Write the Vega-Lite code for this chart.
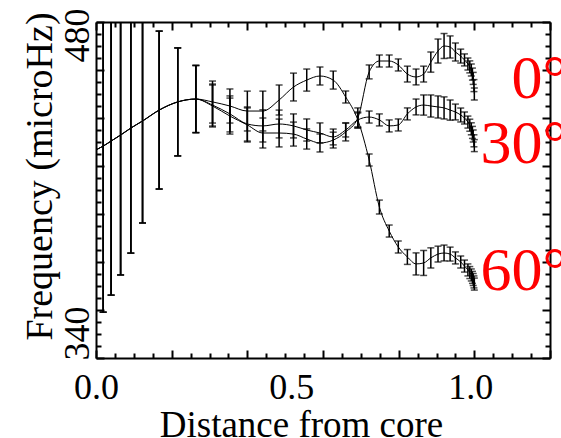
{
"$schema":"https://vega.github.io/schema/vega-lite/v6.json",
"width":454,"height":336,"autosize":"none",
"padding":{"left":96,"top":22,"right":11,"bottom":80},
"background":"white",
"config":{"view":{"stroke":null},"font":"Liberation Serif",
 "axis":{"grid":false,"domainColor":"black","domainWidth":2,"tickColor":"black","tickWidth":2,"labelColor":"black","titleColor":"black","labelFont":"Liberation Serif","titleFont":"Liberation Serif","labelFontWeight":"normal","titleFontWeight":"normal","labelOverlap":false,"labelFlush":false,"labelBound":false}},
"datasets":{
"d":[
{"s":"0","r":0,"f":426.7},{"s":"30","r":0,"f":426.7},{"s":"60","r":0,"f":426.7},
{"s":"0","r":0.019,"f":428.3,"lo":359.1,"hi":497.5},{"s":"30","r":0.019,"f":428.3,"lo":359.1,"hi":497.5},{"s":"60","r":0.019,"f":428.3,"lo":359.1,"hi":497.5},
{"s":"0","r":0.040,"f":430.4,"lo":366.2,"hi":494.6},{"s":"30","r":0.040,"f":430.4,"lo":366.2,"hi":494.6},{"s":"60","r":0.040,"f":430.4,"lo":366.2,"hi":494.6},
{"s":"0","r":0.065,"f":432.9,"lo":374.6,"hi":491.2},{"s":"30","r":0.065,"f":432.9,"lo":374.6,"hi":491.2},{"s":"60","r":0.065,"f":432.9,"lo":374.6,"hi":491.2},
{"s":"0","r":0.092,"f":435.8,"lo":383.7,"hi":487.9},{"s":"30","r":0.092,"f":435.8,"lo":383.7,"hi":487.9},{"s":"60","r":0.092,"f":435.8,"lo":383.7,"hi":487.9},
{"s":"0","r":0.123,"f":438.75,"lo":396.25,"hi":481.25},{"s":"30","r":0.123,"f":438.75,"lo":396.25,"hi":481.25},{"s":"60","r":0.123,"f":438.75,"lo":396.25,"hi":481.25},
{"s":"0","r":0.167,"f":443.3,"lo":410.4,"hi":476.2},{"s":"30","r":0.167,"f":443.3,"lo":410.4,"hi":476.2},{"s":"60","r":0.167,"f":443.3,"lo":410.4,"hi":476.2},
{"s":"0","r":0.216,"f":446.7,"lo":424.2,"hi":469.2},{"s":"30","r":0.216,"f":446.7,"lo":424.2,"hi":469.2},{"s":"60","r":0.216,"f":446.7,"lo":424.2,"hi":469.2},
{"s":"0","r":0.264,"f":447.9,"lo":433.9,"hi":461.9},{"s":"30","r":0.264,"f":447.9,"lo":433.9,"hi":461.9},{"s":"60","r":0.264,"f":447.9,"lo":433.9,"hi":461.9},
{"s":"60","r":0.308,"f":446.7,"lo":437.9,"hi":455.4},
{"s":"60","r":0.354,"f":445.0,"lo":437.9,"hi":452.1},
{"s":"60","r":0.400,"f":442.9,"lo":434.6,"hi":451.2},
{"s":"60","r":0.441,"f":442.9,"lo":434.6,"hi":451.2},
{"s":"60","r":0.484,"f":447.5,"lo":441.25,"hi":453.75},
{"s":"60","r":0.522,"f":452.9,"lo":447.1,"hi":458.7},
{"s":"60","r":0.557,"f":455.8,"lo":451.2,"hi":460.4},
{"s":"60","r":0.592,"f":457.5,"lo":453.75,"hi":461.25},
{"s":"60","r":0.627,"f":455.8,"lo":452.05,"hi":459.55},
{"s":"60","r":0.660,"f":448.75,"lo":446.25,"hi":451.25},
{"s":"60","r":0.692,"f":439.2,"lo":435.9,"hi":442.5},
{"s":"60","r":0.722,"f":422.5,"lo":420.0,"hi":425.0},
{"s":"60","r":0.749,"f":402.9,"lo":400.0,"hi":405.8},
{"s":"60","r":0.775,"f":392.9,"lo":390.4,"hi":395.4},
{"s":"60","r":0.799,"f":386.25,"lo":383.75,"hi":388.75},
{"s":"60","r":0.823,"f":382.1,"lo":379.0,"hi":385.2},
{"s":"60","r":0.846,"f":379.2,"lo":374.6,"hi":383.8},
{"s":"60","r":0.866,"f":379.6,"lo":374.4,"hi":384.8},
{"s":"60","r":0.885,"f":381.7,"lo":377.5,"hi":385.9},
{"s":"60","r":0.904,"f":383.3,"lo":380.0,"hi":386.6},
{"s":"60","r":0.920,"f":383.75,"lo":380.45,"hi":387.05},
{"s":"60","r":0.936,"f":383.3,"lo":380.4,"hi":386.2},
{"s":"60","r":0.950,"f":381.7,"lo":379.2,"hi":384.2},
{"s":"60","r":0.964,"f":380.0,"lo":377.5,"hi":382.5},
{"s":"60","r":0.974,"f":378.3,"lo":375.8,"hi":380.8},
{"s":"60","r":0.983,"f":376.7,"lo":374.2,"hi":379.2},
{"s":"60","r":0.988,"f":375.6,"lo":373.1,"hi":378.1},
{"s":"60","r":0.992,"f":374.6,"lo":372.1,"hi":377.1},
{"s":"60","r":0.995,"f":373.6,"lo":371.1,"hi":376.1},
{"s":"60","r":0.997,"f":372.7,"lo":370.2,"hi":375.2},
{"s":"60","r":0.999,"f":371.7,"lo":369.2,"hi":374.2},
{"s":"60","r":1.000,"f":370.8,"lo":368.3,"hi":373.3},
{"s":"0","r":0.308,"f":445.0,"lo":436.25,"hi":453.75},
{"s":"0","r":0.354,"f":440.8,"lo":433.3,"hi":448.3},
{"s":"0","r":0.400,"f":437.1,"lo":430.0,"hi":444.2},
{"s":"0","r":0.441,"f":433.75,"lo":427.5,"hi":440.0},
{"s":"0","r":0.484,"f":433.75,"lo":427.95,"hi":439.55},
{"s":"0","r":0.522,"f":433.3,"lo":428.3,"hi":438.3},
{"s":"0","r":0.557,"f":431.25,"lo":427.05,"hi":435.45},
{"s":"0","r":0.592,"f":429.6,"lo":425.85,"hi":433.35},
{"s":"0","r":0.627,"f":430.8,"lo":427.5,"hi":434.1},
{"s":"0","r":0.660,"f":434.2,"lo":430.45,"hi":437.95},
{"s":"0","r":0.692,"f":440.0,"lo":435.8,"hi":444.2},
{"s":"0","r":0.722,"f":459.2,"lo":456.3,"hi":462.1},
{"s":"0","r":0.749,"f":463.75,"lo":461.25,"hi":466.25},
{"s":"0","r":0.775,"f":463.75,"lo":461.25,"hi":466.25},
{"s":"0","r":0.799,"f":462.1,"lo":459.6,"hi":464.6},
{"s":"0","r":0.823,"f":458.3,"lo":455.0,"hi":461.6},
{"s":"0","r":0.846,"f":457.1,"lo":453.8,"hi":460.4},
{"s":"0","r":0.866,"f":458.3,"lo":455.0,"hi":461.6},
{"s":"0","r":0.885,"f":463.3,"lo":459.1,"hi":467.5},
{"s":"0","r":0.904,"f":467.9,"lo":462.9,"hi":472.9},
{"s":"0","r":0.920,"f":470.0,"lo":464.8,"hi":475.2},
{"s":"0","r":0.936,"f":469.6,"lo":465.0,"hi":474.2},
{"s":"0","r":0.950,"f":467.5,"lo":463.75,"hi":471.25},
{"s":"0","r":0.964,"f":465.8,"lo":462.9,"hi":468.7},
{"s":"0","r":0.974,"f":464.2,"lo":461.7,"hi":466.7},
{"s":"0","r":0.983,"f":462.5,"lo":460.0,"hi":465.0},
{"s":"0","r":0.988,"f":461.3,"lo":458.8,"hi":463.8},
{"s":"0","r":0.992,"f":460.0,"lo":457.5,"hi":462.5},
{"s":"0","r":0.995,"f":458.3,"lo":455.8,"hi":460.8},
{"s":"0","r":0.997,"f":456.5,"lo":454.0,"hi":459.0},
{"s":"0","r":0.999,"f":453.5,"lo":451.0,"hi":456.0},
{"s":"0","r":1.000,"f":450.0,"lo":447.5,"hi":452.5},
{"s":"30","r":0.308,"f":445.4,"lo":436.65,"hi":454.15},
{"s":"30","r":0.354,"f":441.7,"lo":434.2,"hi":449.2},
{"s":"30","r":0.400,"f":437.5,"lo":430.4,"hi":444.6},
{"s":"30","r":0.441,"f":436.7,"lo":430.0,"hi":443.4},
{"s":"30","r":0.484,"f":437.5,"lo":431.7,"hi":443.3},
{"s":"30","r":0.522,"f":436.7,"lo":431.7,"hi":441.7},
{"s":"30","r":0.557,"f":435.0,"lo":430.4,"hi":439.6},
{"s":"30","r":0.592,"f":433.75,"lo":429.55,"hi":437.95},
{"s":"30","r":0.627,"f":432.1,"lo":428.8,"hi":435.4},
{"s":"30","r":0.660,"f":435.0,"lo":432.1,"hi":437.9},
{"s":"30","r":0.692,"f":439.2,"lo":436.3,"hi":442.1},
{"s":"30","r":0.722,"f":440.4,"lo":437.9,"hi":442.9},
{"s":"30","r":0.749,"f":439.2,"lo":436.7,"hi":441.7},
{"s":"30","r":0.775,"f":436.7,"lo":434.2,"hi":439.2},
{"s":"30","r":0.799,"f":437.1,"lo":434.6,"hi":439.6},
{"s":"30","r":0.823,"f":441.7,"lo":439.2,"hi":444.2},
{"s":"30","r":0.846,"f":444.6,"lo":441.3,"hi":447.9},
{"s":"30","r":0.866,"f":445.4,"lo":441.2,"hi":449.6},
{"s":"30","r":0.885,"f":445.0,"lo":440.4,"hi":449.6},
{"s":"30","r":0.904,"f":444.6,"lo":440.0,"hi":449.2},
{"s":"30","r":0.920,"f":444.2,"lo":439.6,"hi":448.8},
{"s":"30","r":0.936,"f":443.3,"lo":439.1,"hi":447.5},
{"s":"30","r":0.950,"f":442.5,"lo":439.2,"hi":445.8},
{"s":"30","r":0.964,"f":441.25,"lo":438.35,"hi":444.15},
{"s":"30","r":0.974,"f":440.0,"lo":437.5,"hi":442.5},
{"s":"30","r":0.983,"f":438.3,"lo":435.8,"hi":440.8},
{"s":"30","r":0.988,"f":437.0,"lo":434.5,"hi":439.5},
{"s":"30","r":0.992,"f":435.5,"lo":433.0,"hi":438.0},
{"s":"30","r":0.995,"f":434.0,"lo":431.5,"hi":436.5},
{"s":"30","r":0.997,"f":432.5,"lo":430.0,"hi":435.0},
{"s":"30","r":0.999,"f":430.5,"lo":428.0,"hi":433.0},
{"s":"30","r":1.000,"f":428.5,"lo":426.0,"hi":431.0}
],
"lab":[{"t":"0°","r":1.246,"f":448.2},{"t":"30°","r":1.246,"f":421.1},{"t":"60°","r":1.246,"f":368.3}]
},
"layer":[
{"data":{"name":"d"},"transform":[{"filter":"isValid(datum.lo)"}],
 "mark":{"type":"errorbar","clip":true,"color":"black","thickness":1.5,"size":7,"ticks":true},
 "encoding":{
  "x":{"field":"r","type":"quantitative","scale":{"domain":[0,1.2],"nice":false,"zero":false},
   "axis":{"orient":"bottom","values":[0,0.05,0.1,0.15,0.2,0.25,0.3,0.35,0.4,0.45,0.5,0.55,0.6,0.65,0.7,0.75,0.8,0.85,0.9,0.95,1,1.05,1.1,1.15,1.2],
    "format":".1f","labelExpr":"abs(datum.value) < 0.001 || abs(datum.value - 0.5) < 0.001 || abs(datum.value - 1) < 0.001 ? datum.label : ''",
    "tickSize":{"condition":{"test":"abs(datum.value*5 - round(datum.value*5)) < 0.001","value":-8},"value":-5},
    "labelFontSize":36,"labelBaseline":"alphabetic","labelAlign":"center",
    "labelPadding":{"condition":{"test":"abs(datum.value*5 - round(datum.value*5)) < 0.001","value":48},"value":45},
    "labelOffset":{"condition":[{"test":"abs(datum.value - 0.5) < 0.001","value":6},{"test":"abs(datum.value - 1) < 0.001","value":-4}],"value":0},
    "title":"Distance from core","titleFontSize":37,"titleX":205,"titleY":78.7,"titleBaseline":"alphabetic","titleAlign":"center","titleAngle":0}},
  "y":{"field":"lo","type":"quantitative","scale":{"domain":[340,480],"nice":false,"zero":false},
   "axis":{"orient":"left","values":[340,345,350,355,360,365,370,375,380,385,390,395,400,405,410,415,420,425,430,435,440,445,450,455,460,465,470,475,480],
    "labelExpr":"datum.value == 340 || datum.value == 480 ? datum.label : ''",
    "tickSize":{"condition":{"test":"datum.value % 20 == 0","value":-8},"value":-5},
    "labelFontSize":36,"labelAngle":270,"labelAlign":"center","labelBaseline":"alphabetic","labelPadding":16,
    "labelOffset":{"condition":[{"test":"datum.value == 480","value":13},{"test":"datum.value == 340","value":-25}],"value":0},
    "title":"Frequency (microHz)","titleFontSize":38,"titleAngle":270,"titleX":-45,"titleY":154,"titleAlign":"center","titleBaseline":"alphabetic"}},
  "y2":{"field":"hi"}
 }},
{"data":{"name":"d"},
 "mark":{"type":"line","color":"black","strokeWidth":1,"interpolate":"monotone","clip":true},
 "encoding":{
  "x":{"field":"r","type":"quantitative","scale":{"domain":[0,1.2],"nice":false,"zero":false},
   "axis":{"orient":"top","values":[0,0.05,0.1,0.15,0.2,0.25,0.3,0.35,0.4,0.45,0.5,0.55,0.6,0.65,0.7,0.75,0.8,0.85,0.9,0.95,1,1.05,1.1,1.15,1.2],"labels":false,"title":null,
    "tickSize":{"condition":{"test":"abs(datum.value*5 - round(datum.value*5)) < 0.001","value":-8},"value":-5}}},
  "y":{"field":"f","type":"quantitative","scale":{"domain":[340,480],"nice":false,"zero":false},
   "axis":{"orient":"right","values":[340,345,350,355,360,365,370,375,380,385,390,395,400,405,410,415,420,425,430,435,440,445,450,455,460,465,470,475,480],"labels":false,"title":null,
    "tickSize":{"condition":{"test":"datum.value % 20 == 0","value":-8},"value":-5}}},
  "detail":{"field":"s"}
 }},
{"data":{"name":"lab"},
 "mark":{"type":"text","align":"right","baseline":"alphabetic","fontSize":62,"color":"#ff0000","font":"Liberation Serif"},
 "encoding":{
  "x":{"field":"r","type":"quantitative","scale":{"domain":[0,1.2],"nice":false,"zero":false},"axis":null},
  "y":{"field":"f","type":"quantitative","scale":{"domain":[340,480],"nice":false,"zero":false},"axis":null},
  "text":{"field":"t"}
 }}
],
"resolve":{"axis":{"x":"independent","y":"independent"}}
}
